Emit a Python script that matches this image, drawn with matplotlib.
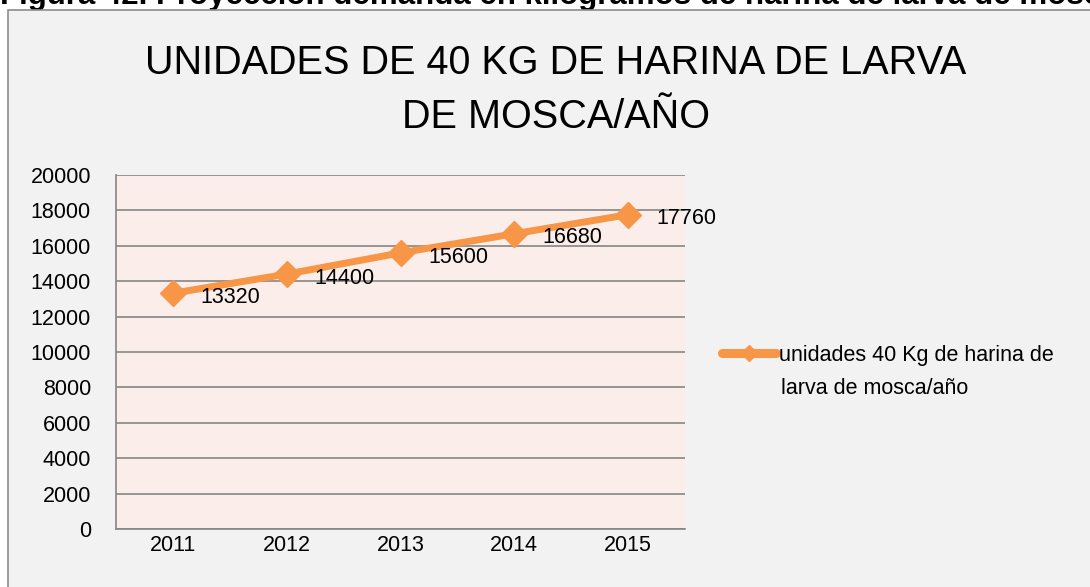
import matplotlib.pyplot as plt
from matplotlib.patches import Rectangle

years = ['2011', '2012', '2013', '2014', '2015']
unidades = [13320, 14400, 15600, 16680, 17760]
yticks = [0, 2000, 4000, 6000, 8000, 10000, 12000, 14000, 16000, 18000, 20000]

orange = '#f79646'
grid_gray = '#868686'

plt.rcParams['font.family'] = ['Liberation Sans', 'DejaVu Sans']

fig = plt.figure(figsize=(10.9, 5.87), dpi=100)
fig.patch.set_facecolor('white')

# chart frame (cut off on the right and bottom)
frame = Rectangle((8 / 1090, -0.05), 1.1, 1 - 10 / 587 + 0.05,
                  transform=fig.transFigure, facecolor='#f2f2f2',
                  edgecolor='#8c8c8c', linewidth=1.2, zorder=-5)
fig.patches.append(frame)

# caption above the chart, partly clipped at the top
fig.text(0.0, 1 - 4 / 587, 'Figura 42. Proyección demanda en kilogramos de harina de larva de mosca',
         fontsize=22.5, fontweight='bold', ha='left', va='baseline', zorder=-6)

fig.text(556 / 1090, 1 - 90 / 587, 'UNIDADES DE 40 KG DE HARINA DE LARVA\nDE MOSCA/AÑO',
         fontsize=28.5, ha='center', va='center', linespacing=1.5, color='black')

ax = fig.add_axes([116 / 1090, 1 - 529 / 587, 569 / 1090, 354 / 587])
ax.set_facecolor('#fbeeea')
x = list(range(len(years)))
ax.plot(x, unidades, color=orange, linewidth=5, marker='D', markersize=13,
        label='unidades 40 Kg de harina de', zorder=3)
for xi, v in zip(x, unidades):
    ax.annotate(str(v), (xi, v), xytext=(20, -3), textcoords='offset points',
                fontsize=15.5, ha='left', va='center', zorder=4)

ax.set_xlim(-0.5, 4.5)
ax.set_ylim(0, 20000)
ax.set_xticks(x)
ax.set_xticklabels(years)
ax.set_yticks(yticks)
ax.yaxis.grid(True, color=grid_gray, linewidth=1.2)
ax.set_axisbelow(True)
ax.tick_params(axis='both', length=0, labelsize=15.5)
ax.tick_params(axis='x', pad=4)
ax.tick_params(axis='y', pad=18)
for s in ['top', 'right']:
    ax.spines[s].set_visible(False)
for s in ['left', 'bottom']:
    ax.spines[s].set_color(grid_gray)
    ax.spines[s].set_linewidth(1.2)

leg = ax.legend(loc='center left', bbox_to_anchor=(722 / 1090, 1 - 355 / 587),
                bbox_transform=fig.transFigure, frameon=False, fontsize=15.5,
                handlelength=2.5, handletextpad=0.15, markerscale=0.6,
                borderpad=0, borderaxespad=0)
h = leg.legend_handles[0]
h.set_linewidth(6.5)
h.set_solid_capstyle('round')
# second line of the legend label, kept under the first one
fig.text(781 / 1090, 1 - 388 / 587, 'larva de mosca/año', fontsize=15.5,
         ha='left', va='center')

fig.savefig('out.png', dpi=100)
